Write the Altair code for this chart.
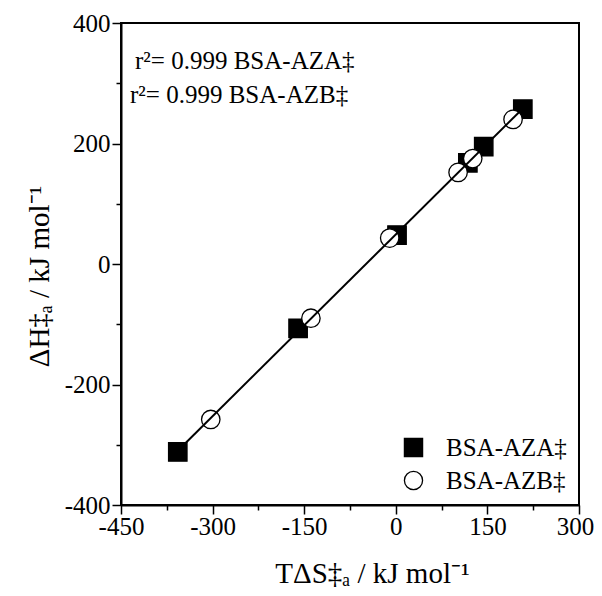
import altair as alt
import pandas as pd

series_names = ["BSA-AZA‡", "BSA-AZB‡"]
aza_x = [-357, -160, 2, 118, 144, 208]
aza_y = [-312, -107, 48, 168, 195, 257]
azb_x = [-303, -139, -10, 102, 126, 192]
azb_y = [-258, -90, 43, 152, 175, 240]
x_ticks = list(range(-450, 301, 75))
y_ticks = list(range(-400, 401, 100))
annotations = ["r²= 0.999 BSA-AZA‡", "r²= 0.999 BSA-AZB‡"]
fit_extent = [-357, 208]

df = pd.DataFrame({
    "x": aza_x + azb_x,
    "y": aza_y + azb_y,
    "series": [series_names[0]] * len(aza_x) + [series_names[1]] * len(azb_x),
})

FONT = "Liberation Serif"
xs = alt.Scale(domain=[-450, 300], nice=False, zero=False)
ys = alt.Scale(domain=[-400, 400], nice=False, zero=False)

x_axis = alt.Axis(
    values=x_ticks,
    labelExpr="datum.value % 150 === 0 ? '' + datum.value : ''",
    tickSize={"condition": {"test": "datum.value % 150 === 0", "value": 9}, "value": 5},
    labelOffset={"condition": {"test": "datum.value === 300", "value": -4}, "value": 0},
    title="TΔS‡ₐ / kJ mol⁻¹",
    grid=False,
    labelPadding=0,
    titlePadding=20,
    titleX=251,
    labelFlush=False,
    labelOverlap=False,
)
y_axis = alt.Axis(
    values=y_ticks,
    labelExpr="datum.value % 200 === 0 ? '' + datum.value : ''",
    tickSize={"condition": {"test": "datum.value % 200 === 0", "value": 9}, "value": 5},
    title="ΔH‡ₐ / kJ mol⁻¹",
    grid=False,
    labelPadding=2,
    titlePadding=10,
    titleY=253,
    labelFlush=False,
    labelOverlap=False,
)

legend = alt.Legend(
    title=None, orient="none", legendX=280, legendY=412,
    labelFont=FONT, labelFontSize=25, labelColor="black",
    symbolSize=330, symbolStrokeWidth=1.3,
    labelOffset=20, rowPadding=7,
)

points = alt.Chart(df).mark_point(
    filled=True, strokeWidth=1.3, opacity=1, size=340
).encode(
    x=alt.X("x:Q", scale=xs, axis=x_axis),
    y=alt.Y("y:Q", scale=ys, axis=y_axis),
    shape=alt.Shape("series:N", scale=alt.Scale(domain=series_names, range=["square", "circle"]), legend=legend),
    fill=alt.Fill("series:N", scale=alt.Scale(domain=series_names, range=["black", "white"]), legend=legend),
    stroke=alt.Stroke("series:N", scale=alt.Scale(domain=series_names, range=["black", "black"]), legend=legend),
)

line = alt.Chart(df).transform_regression("x", "y", extent=fit_extent).mark_line(
    color="black", strokeWidth=2
).encode(x=alt.X("x:Q", scale=xs), y=alt.Y("y:Q", scale=ys))

t1 = alt.Chart(pd.DataFrame({"t": [annotations[0]]})).mark_text(
    font=FONT, fontSize=25, align="left", baseline="middle", color="black"
).encode(text="t:N", x=alt.value(14), y=alt.value(38))
t2 = alt.Chart(pd.DataFrame({"t": [annotations[1]]})).mark_text(
    font=FONT, fontSize=25, align="left", baseline="middle", color="black"
).encode(text="t:N", x=alt.value(9), y=alt.value(72))

chart = alt.layer(points, line, t1, t2).properties(
    width=458, height=482,
    autosize=alt.AutoSizeParams(type="none"),
    padding={"left": 113, "top": 15, "right": 15, "bottom": 88},
).configure_view(stroke="black", strokeWidth=2).configure_axis(
    domainColor="black", domainWidth=2, tickColor="black", tickWidth=1.5,
    labelFont=FONT, labelFontSize=25, labelColor="black",
    titleFont=FONT, titleFontSize=29, titleColor="black", titleFontWeight="normal",
)

chart.save("out.html", embed_options={"renderer": "svg", "actions": False})
